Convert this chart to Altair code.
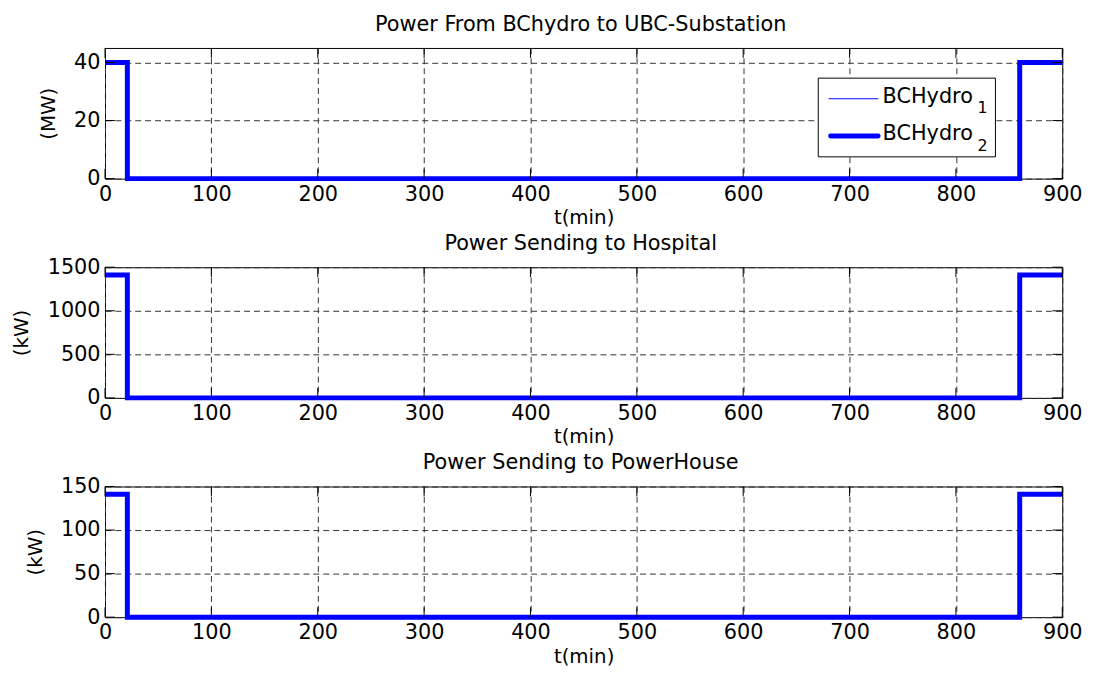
import altair as alt
import pandas as pd

# ---- data ----
time_min = [0, 21, 21, 860, 860, 900]
bchydro1_mw = [40, 40, 0, 0, 40, 40]
bchydro2_mw = [40, 40, 0, 0, 40, 40]
hospital_kw = [1410, 1410, 0, 0, 1410, 1410]
powerhouse_kw = [141, 141, 0, 0, 141, 141]

x_ticks = [0, 100, 200, 300, 400, 500, 600, 700, 800, 900]
mw_ticks = [0, 20, 40]
hospital_ticks = [0, 500, 1000, 1500]
powerhouse_ticks = [0, 50, 100, 150]

panel_titles = ["Power From BChydro to UBC-Substation",
                "Power Sending to Hospital",
                "Power Sending to PowerHouse"]
y_titles = ["(MW)", "(kW)", "(kW)"]
x_title = "t(min)"
legend_names = ["BCHydro", "BCHydro"]
legend_subs = ["1", "2"]

W, H = 967, 132
FONT = "DejaVu Sans"
BLUE = "#0000ff"
LFS = 21     # tick labels
AFS = 20     # axis titles
TFS = 21     # panel titles


def series_df(vals):
    return pd.DataFrame({"t": time_min, "v": vals, "i": list(range(len(vals)))})


def panel(series_list, ytitle, ydomain, yticks, title, legend=False):
    xenc = alt.X("t:Q",
                 scale=alt.Scale(domain=[0, 900], nice=False, zero=False),
                 axis=alt.Axis(values=x_ticks, title=x_title, grid=True,
                               gridDash=[6, 4], gridColor="#333333", gridWidth=1,
                               ticks=False, tickSize=0, domain=False, labelFlush=False,
                               labelPadding=5, titlePadding=3.5, format="d"))
    yenc = alt.Y("v:Q",
                 scale=alt.Scale(domain=ydomain, nice=False, zero=False),
                 axis=alt.Axis(values=yticks, title=ytitle, grid=True,
                               gridDash=[6, 4], gridColor="#333333", gridWidth=1,
                               ticks=False, tickSize=0, domain=False, labelFlush=False,
                               labelPadding=5, titlePadding=15.5, format="d"))
    one = pd.DataFrame({"a": [0]})
    layers = []
    for vals, sw in series_list:
        layers.append(
            alt.Chart(series_df(vals)).mark_line(color=BLUE, strokeWidth=sw, clip=False)
            .encode(x=xenc, y=yenc, order=alt.Order("i:Q"))
        )
    # inside tick marks (MATLAB style)
    xt = pd.DataFrame({"t": x_ticks})
    yt = pd.DataFrame({"v": yticks})
    layers.append(alt.Chart(xt).mark_rule(color="black", strokeWidth=1).encode(
        x=alt.X("t:Q"), y=alt.value(H), y2=alt.value(H - 10)))
    layers.append(alt.Chart(xt).mark_rule(color="black", strokeWidth=1).encode(
        x=alt.X("t:Q"), y=alt.value(0), y2=alt.value(10)))
    layers.append(alt.Chart(yt).mark_rule(color="black", strokeWidth=1).encode(
        y=alt.Y("v:Q"), x=alt.value(0), x2=alt.value(10)))
    layers.append(alt.Chart(yt).mark_rule(color="black", strokeWidth=1).encode(
        y=alt.Y("v:Q"), x=alt.value(W), x2=alt.value(W - 10)))

    # panel title
    layers.append(alt.Chart(one).mark_text(align="center", baseline="alphabetic",
                                           fontSize=TFS, font=FONT, color="black").encode(
        x=alt.value(W / 2 - 3), y=alt.value(-17.5), text=alt.value(title)))

    if legend:
        layers.append(alt.Chart(one).mark_rect(fill="white", stroke="black", strokeWidth=1).encode(
            x=alt.value(720.5), x2=alt.value(899.5), y=alt.value(30.5), y2=alt.value(110)))
        layers.append(alt.Chart(one).mark_rule(color=BLUE, strokeWidth=1).encode(
            x=alt.value(731), x2=alt.value(781), y=alt.value(51.3)))
        layers.append(alt.Chart(one).mark_rule(color=BLUE, strokeWidth=5, strokeCap="round").encode(
            x=alt.value(733), x2=alt.value(781), y=alt.value(89)))
        for k, (ty, sy) in enumerate([(55.7, 65.7), (93.3, 104)]):
            layers.append(alt.Chart(one).mark_text(align="left", baseline="alphabetic",
                                                   fontSize=21, font=FONT, color="black").encode(
                x=alt.value(785.5), y=alt.value(ty), text=alt.value(legend_names[k])))
            layers.append(alt.Chart(one).mark_text(align="left", baseline="alphabetic",
                                                   fontSize=16, font=FONT, color="black").encode(
                x=alt.value(881.5), y=alt.value(sy), text=alt.value(legend_subs[k])))

    return alt.layer(*layers).properties(width=W, height=H)


p1 = panel([(bchydro1_mw, 1), (bchydro2_mw, 5)], y_titles[0], [0, 45], mw_ticks,
           panel_titles[0], legend=True)
p2 = panel([(hospital_kw, 5)], y_titles[1], [0, 1500], hospital_ticks, panel_titles[1])
p3 = panel([(powerhouse_kw, 5)], y_titles[2], [0, 150], powerhouse_ticks, panel_titles[2])

chart = alt.vconcat(p1, p2, p3, spacing=89.5, bounds="flush").properties(
    padding={"left": 3, "top": 2, "right": 5, "bottom": 0},
    background="white"
).configure_view(
    stroke="black", strokeWidth=1, fill="white"
).configure_axis(
    labelFont=FONT, titleFont=FONT, labelFontSize=LFS, titleFontSize=AFS,
    labelColor="black", titleColor="black", titleFontWeight="normal"
)

chart.save("out.html", embed_options={"renderer": "svg", "actions": False})
